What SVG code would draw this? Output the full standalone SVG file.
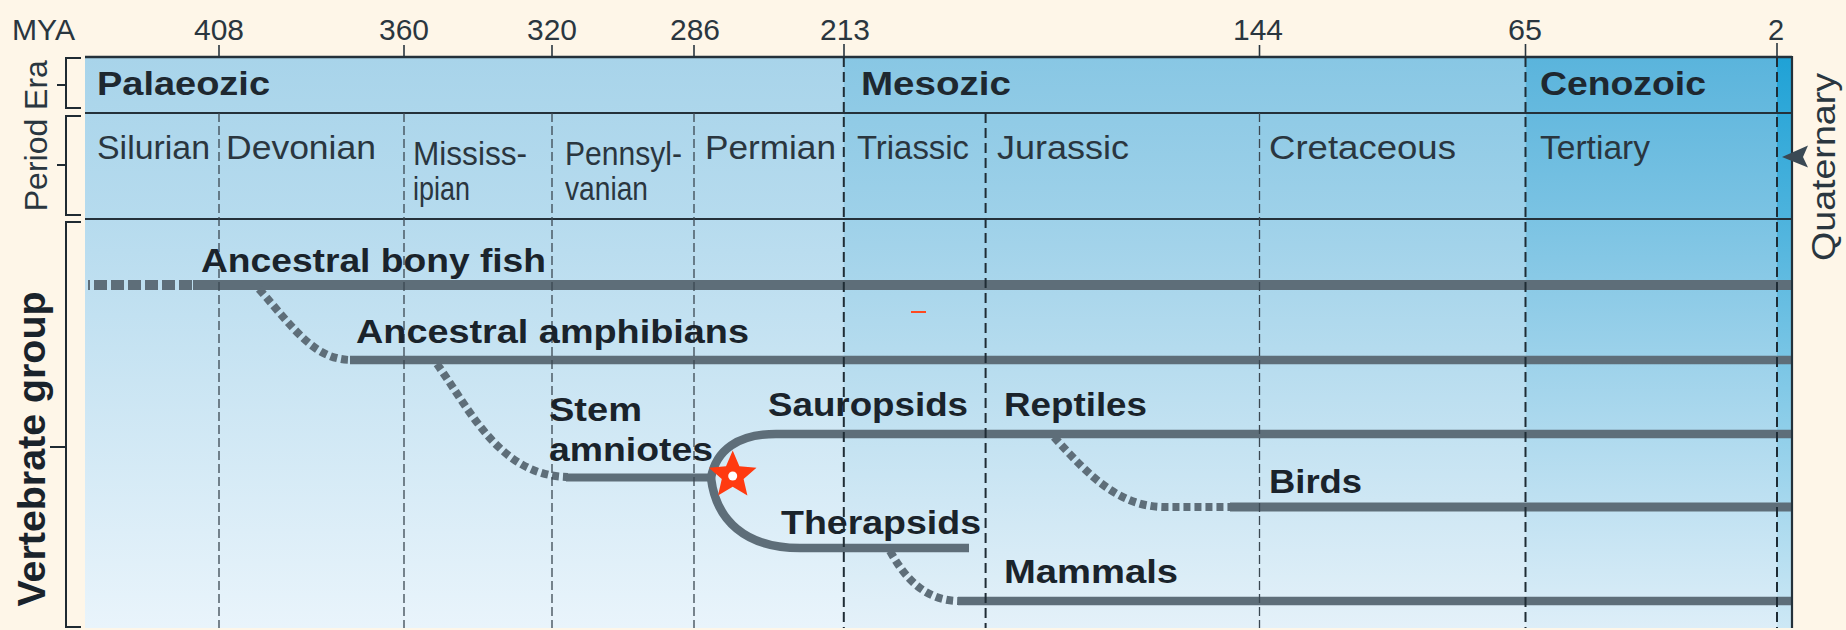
<svg xmlns="http://www.w3.org/2000/svg" width="1846" height="630" viewBox="0 0 1846 630">
<defs>
<linearGradient id="gPal" gradientUnits="userSpaceOnUse" x1="0" y1="57" x2="0" y2="628">
<stop offset="0" stop-color="#A8D4EA"/><stop offset="0.284" stop-color="#B6DBEE"/><stop offset="1" stop-color="#E9F4FB"/>
</linearGradient>
<linearGradient id="gMes" gradientUnits="userSpaceOnUse" x1="0" y1="57" x2="0" y2="628">
<stop offset="0" stop-color="#88C7E4"/><stop offset="0.284" stop-color="#9ED1E9"/><stop offset="1" stop-color="#E4F1F9"/>
</linearGradient>
<linearGradient id="gCen" gradientUnits="userSpaceOnUse" x1="0" y1="57" x2="0" y2="628">
<stop offset="0" stop-color="#5AB4DC"/><stop offset="0.284" stop-color="#7BC3E3"/><stop offset="1" stop-color="#DDEEF8"/>
</linearGradient>
<linearGradient id="gQua" gradientUnits="userSpaceOnUse" x1="0" y1="57" x2="0" y2="628">
<stop offset="0" stop-color="#1FA2D6"/><stop offset="0.284" stop-color="#4DB3DD"/><stop offset="1" stop-color="#CDE8F5"/>
</linearGradient>
<style>
.num{font-family:"Liberation Sans",Arial,sans-serif;font-size:29px;fill:#2A363F;text-anchor:middle}
.per{font-family:"Liberation Sans",Arial,sans-serif;font-size:33px;fill:#2A363F}
.era{font-family:"Liberation Sans",Arial,sans-serif;font-size:33px;font-weight:bold;fill:#1E2830}
.tax{font-family:"Liberation Sans",Arial,sans-serif;font-size:34px;font-weight:bold;fill:#1A232B}
.ax{font-family:"Liberation Sans",Arial,sans-serif;font-size:32px;fill:#2A363F;text-anchor:middle}
.br{fill:none;stroke:#1F2A32;stroke-width:2}
.tick{stroke:#2A363F;stroke-width:1.6}
.hl{stroke:#24313A;stroke-width:2.2}
.vthin{stroke:#3B4852;stroke-width:1.3;stroke-dasharray:9 4}
.vthick{stroke:#1F2C35;stroke-width:2;stroke-dasharray:10 5}
.ln{fill:none;stroke:#5E6E79;stroke-width:8.5}
.dl{fill:none;stroke:#5E6E79;stroke-width:8;stroke-dasharray:7 4}
</style>
</defs>
<rect x="0" y="0" width="1846" height="630" fill="#FEF6E8"/>
<g id="panel">
<rect x="85" y="57" width="759" height="571" fill="url(#gPal)"/>
<rect x="843.8" y="57" width="682" height="571" fill="url(#gMes)"/>
<rect x="1525.5" y="57" width="252" height="571" fill="url(#gCen)"/>
<rect x="1777" y="57" width="15" height="571" fill="url(#gQua)"/>
</g>
<g id="axis">
<text class="num" x="12" y="40" style="text-anchor:start" textLength="63" lengthAdjust="spacingAndGlyphs">MYA</text>
<text class="num" x="219" y="40" textLength="50" lengthAdjust="spacingAndGlyphs">408</text>
<text class="num" x="404" y="40" textLength="50" lengthAdjust="spacingAndGlyphs">360</text>
<text class="num" x="552" y="40" textLength="50" lengthAdjust="spacingAndGlyphs">320</text>
<text class="num" x="695" y="40" textLength="50" lengthAdjust="spacingAndGlyphs">286</text>
<text class="num" x="845" y="40" textLength="50" lengthAdjust="spacingAndGlyphs">213</text>
<text class="num" x="1258" y="40" textLength="50" lengthAdjust="spacingAndGlyphs">144</text>
<text class="num" x="1525" y="40" textLength="34" lengthAdjust="spacingAndGlyphs">65</text>
<text class="num" x="1776" y="40">2</text>
<path class="tick" d="M219 45V57M404 45V57M552 45V57M694 45V57M844 44V57M1259.5 45V57M1525.5 44V57M1777 43V57"/>
</g>
<g id="connectors">
<path class="ln" d="M88 285H193" style="stroke-width:10;stroke-dasharray:13 4;stroke-dashoffset:11"/>
<path class="ln" d="M193 285H1792" style="stroke-width:10"/>
<path class="dl" d="M259 289C295 330 315 360 352 360"/>
<path class="ln" d="M350 360H1792"/>
<path class="dl" d="M437 364C470 410 500 476 568 477"/>
<path class="ln" d="M566 477.5H712" style="stroke-width:8"/>
<path class="ln" d="M711 478C716 450 738 434 776 434H1792"/>
<path class="ln" d="M711 478C716 520 745 548 800 548H969"/>
<path class="dl" d="M890 551C905 578 925 601 960 601"/>
<path class="ln" d="M958 601H1792"/>
<path class="dl" d="M1054 437C1090 477 1120 507 1165 507H1232"/>
<path class="ln" d="M1230 507H1792" style="stroke-width:9"/>
</g>
<g id="grid">
<path class="hl" d="M85 57H1792" style="stroke-width:2.6"/>
<path class="hl" d="M85 113H1792M85 219H1792"/>
<path class="hl" d="M1792 56V628"/>
<path class="vthin" d="M219 113V628M404 113V628M552 113V628M694 113V628M1259.5 113V628"/>
<path class="vthick" d="M843.8 57V628M985.6 113V628M1525.5 57V628M1777 57V628"/>
</g>
<g id="brackets">
<path class="br" d="M81 58H66V108H81M57 85H66"/>
<path class="br" d="M81 116H66V215H81M57 165H66"/>
<path class="br" d="M81 222H66V627H81M50 447H66"/>
<text class="ax" transform="translate(47 85) rotate(-90)">Era</text>
<text class="ax" transform="translate(47 165) rotate(-90)">Period</text>
<text class="ax" transform="translate(45 449) rotate(-90)" style="font-size:39px;font-weight:bold;fill:#1A232B" textLength="315" lengthAdjust="spacingAndGlyphs">Vertebrate group</text>
</g>
<g id="eras">
<text class="era" x="97" y="95" textLength="173" lengthAdjust="spacingAndGlyphs">Palaeozic</text>
<text class="era" x="861" y="95" textLength="150" lengthAdjust="spacingAndGlyphs">Mesozic</text>
<text class="era" x="1540" y="95" textLength="166" lengthAdjust="spacingAndGlyphs">Cenozoic</text>
</g>
<g id="periods">
<text class="per" x="97" y="159" textLength="113" lengthAdjust="spacingAndGlyphs">Silurian</text>
<text class="per" x="226" y="159" textLength="150" lengthAdjust="spacingAndGlyphs">Devonian</text>
<text class="per" x="413" y="165" textLength="114" lengthAdjust="spacingAndGlyphs">Mississ-</text>
<text class="per" x="413" y="200" textLength="57" lengthAdjust="spacingAndGlyphs">ipian</text>
<text class="per" x="565" y="165" textLength="117" lengthAdjust="spacingAndGlyphs">Pennsyl-</text>
<text class="per" x="565" y="200" textLength="83" lengthAdjust="spacingAndGlyphs">vanian</text>
<text class="per" x="705" y="159" textLength="131" lengthAdjust="spacingAndGlyphs">Permian</text>
<text class="per" x="857" y="159" textLength="112" lengthAdjust="spacingAndGlyphs">Triassic</text>
<text class="per" x="997" y="159" textLength="132" lengthAdjust="spacingAndGlyphs">Jurassic</text>
<text class="per" x="1269" y="159" textLength="187" lengthAdjust="spacingAndGlyphs">Cretaceous</text>
<text class="per" x="1540" y="159" textLength="110" lengthAdjust="spacingAndGlyphs">Tertiary</text>
</g>
<g id="quaternary">
<path d="M1782 157L1808 145.5L1803 157L1808 167.5Z" fill="#3A4954"/>
<text class="ax" transform="translate(1835 167) rotate(-90)" style="font-size:33px" textLength="188" lengthAdjust="spacingAndGlyphs">Quaternary</text>
</g>
<g id="node-fish"><text class="tax" x="201" y="272" textLength="345" lengthAdjust="spacingAndGlyphs">Ancestral bony fish</text></g>
<g id="node-amphibians"><text class="tax" x="356" y="343" textLength="393" lengthAdjust="spacingAndGlyphs">Ancestral amphibians</text></g>
<g id="node-stem"><text class="tax" x="549" y="421" textLength="93" lengthAdjust="spacingAndGlyphs">Stem</text><text class="tax" x="549" y="461" textLength="164" lengthAdjust="spacingAndGlyphs">amniotes</text></g>
<g id="node-sauropsids"><text class="tax" x="768" y="416" textLength="200" lengthAdjust="spacingAndGlyphs">Sauropsids</text></g>
<g id="node-reptiles"><text class="tax" x="1004" y="416" textLength="143" lengthAdjust="spacingAndGlyphs">Reptiles</text></g>
<g id="node-therapsids"><text class="tax" x="781" y="534" textLength="200" lengthAdjust="spacingAndGlyphs">Therapsids</text></g>
<g id="node-birds"><text class="tax" x="1269" y="493" textLength="93" lengthAdjust="spacingAndGlyphs">Birds</text></g>
<g id="node-mammals"><text class="tax" x="1004" y="583" textLength="174" lengthAdjust="spacingAndGlyphs">Mammals</text></g>
<g id="marks">
<path d="M911 312H926" stroke="#FF4A20" stroke-width="2"/>
<polygon points="732.7,450.5 739.4,466.2 756.5,467.8 743.6,478.9 747.4,495.5 732.7,486.8 718,495.5 721.8,478.9 708.9,467.8 726,466.2" fill="#FF3A10"/>
<circle cx="732.7" cy="476" r="4.5" fill="#FFFFFF"/>
</g>
</svg>
